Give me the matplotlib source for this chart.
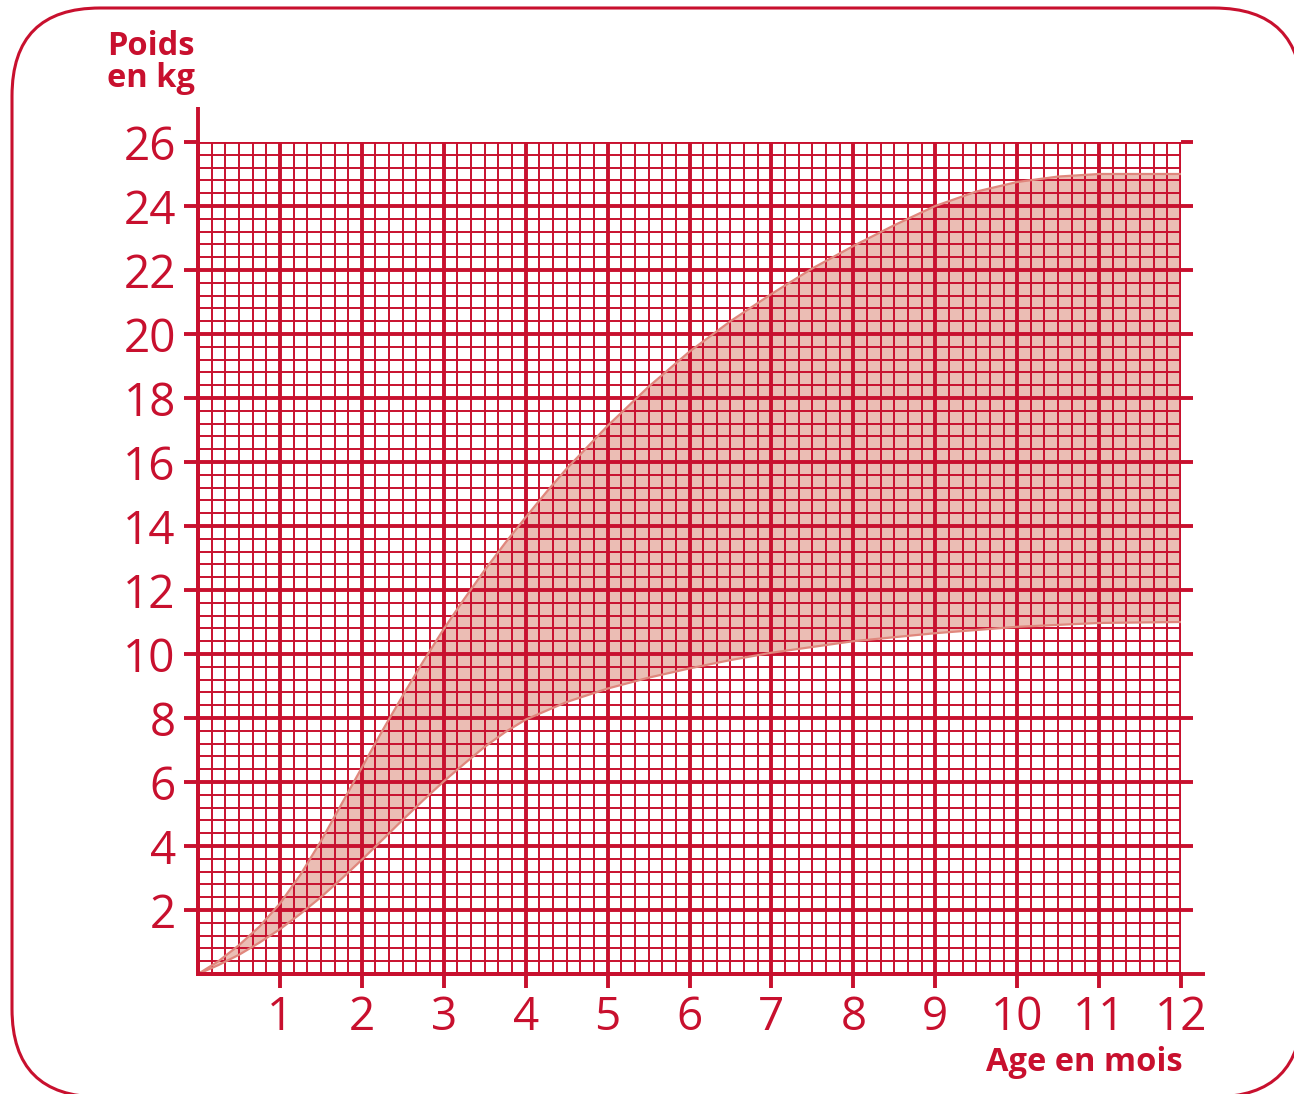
import matplotlib
matplotlib.use('Agg')
import matplotlib.pyplot as plt
from matplotlib.patches import FancyBboxPatch
from matplotlib.ticker import MultipleLocator

plt.rcParams['font.family'] = ['Open Sans', 'DejaVu Sans']

RED = '#C8102E'
BAND = '#EBBDB4'
BAND_EDGE = '#E0877D'

# upper limit of the weight band (months, kg)
upper_age = [0, 0.25, 0.5, 0.75, 1, 1.25, 1.5, 1.75, 2, 2.25, 2.5, 2.75, 3,
             3.25, 3.5, 3.75, 4, 4.25, 4.5, 5, 5.5, 6, 6.5, 7, 7.5, 8, 8.5,
             9, 9.5, 10, 10.5, 11, 12]
upper_kg = [0, 0.4, 0.9, 1.48, 2.2, 3.1, 4.15, 5.3, 6.45, 7.6, 8.7, 9.77, 10.78,
            11.72, 12.62, 13.47, 14.27, 15.05, 15.79, 17.13, 18.35, 19.45, 20.4,
            21.25, 22.05, 22.75, 23.4, 24.0, 24.45, 24.75, 24.92, 25.0, 25.0]

# lower limit of the weight band
lower_age = [0, 0.25, 0.5, 0.75, 1, 1.25, 1.5, 1.75, 2, 2.25, 2.5, 2.75, 3,
             3.25, 3.5, 3.75, 4, 4.5, 5, 5.5, 6, 6.5, 7, 8, 9, 10, 11, 12]
lower_kg = [0, 0.28, 0.6, 0.98, 1.4, 1.88, 2.4, 2.97, 3.57, 4.19, 4.82, 5.43,
            6.02, 6.57, 7.1, 7.56, 7.95, 8.5, 8.92, 9.26, 9.55, 9.81, 10.04,
            10.4, 10.65, 10.85, 10.97, 11.0]

x_ticks = list(range(1, 13))
y_ticks = list(range(2, 27, 2))

W, H = 1294, 1094
fig = plt.figure(figsize=(W / 100, H / 100), dpi=100)
ax = fig.add_axes([198 / W, 120 / H, 983 / W, 832 / H])
ax.set_xlim(0, 12)
ax.set_ylim(0, 26)

# band
ax.fill(upper_age + lower_age[::-1], upper_kg + lower_kg[::-1],
        color=BAND, lw=0, zorder=1)
ax.plot(upper_age, upper_kg, color=BAND_EDGE, lw=1.6, zorder=3)
ax.plot(lower_age, lower_kg, color=BAND_EDGE, lw=1.6, zorder=3)

# graph paper
ax.set_xticks(x_ticks)
ax.set_yticks(y_ticks)
ax.xaxis.set_minor_locator(MultipleLocator(1 / 6))
ax.yaxis.set_minor_locator(MultipleLocator(0.4))
ax.set_axisbelow('line')
ax.grid(which='major', color=RED, lw=2.8, solid_capstyle='butt')
ax.grid(which='minor', color=RED, lw=1.4, solid_capstyle='butt')
ax.tick_params(which='minor', length=0)
ax.tick_params(which='major', direction='out', length=10, width=2.8,
               color=RED, labelcolor=RED, labelsize=33)
ax.tick_params(axis='y', pad=6)
ax.tick_params(axis='x', pad=5)

for side in ['top', 'right']:
    ax.spines[side].set_visible(False)
for side in ['left', 'bottom']:
    ax.spines[side].set_color(RED)
    ax.spines[side].set_linewidth(2.8)

# overhangs of the axis lines
ax.axvline(0, ymin=0, ymax=1 + 35 / 832, color=RED, lw=2.8, clip_on=False,
           zorder=4, solid_capstyle='butt')
ax.axhline(0, xmin=0, xmax=1 + 24 / 983, color=RED, lw=2.8, clip_on=False,
           zorder=4, solid_capstyle='butt')
for v in y_ticks:
    ax.axhline(v, xmin=1, xmax=1 + 12 / 983, color=RED, lw=2.8, clip_on=False,
               zorder=4, solid_capstyle='butt')

fig.text(107 / W, 1 - 55 / H, 'Poids', color=RED, fontsize=23.5,
         fontweight='bold', ha='left', va='baseline')
fig.text(107 / W, 1 - 87 / H, 'en kg', color=RED, fontsize=23.5,
         fontweight='bold', ha='left', va='baseline')
fig.text(1183 / W, 1 - 1071 / H, 'Age en mois', color=RED, fontsize=23.5,
         fontweight='bold', ha='right', va='baseline')

# rounded frame, running off the right and bottom edges
# (filled so Agg does not clip the curved corners badly)
frame = FancyBboxPatch((12 / W, -3 / H), 1290 / W, 1089 / H,
                       boxstyle='round,pad=0,rounding_size=%f' % (88 / W),
                       mutation_aspect=W / H,
                       transform=fig.transFigure, facecolor='white',
                       edgecolor=RED, lw=2.2, zorder=-1)
fig.add_artist(frame)

fig.savefig('out.png', dpi=100)
